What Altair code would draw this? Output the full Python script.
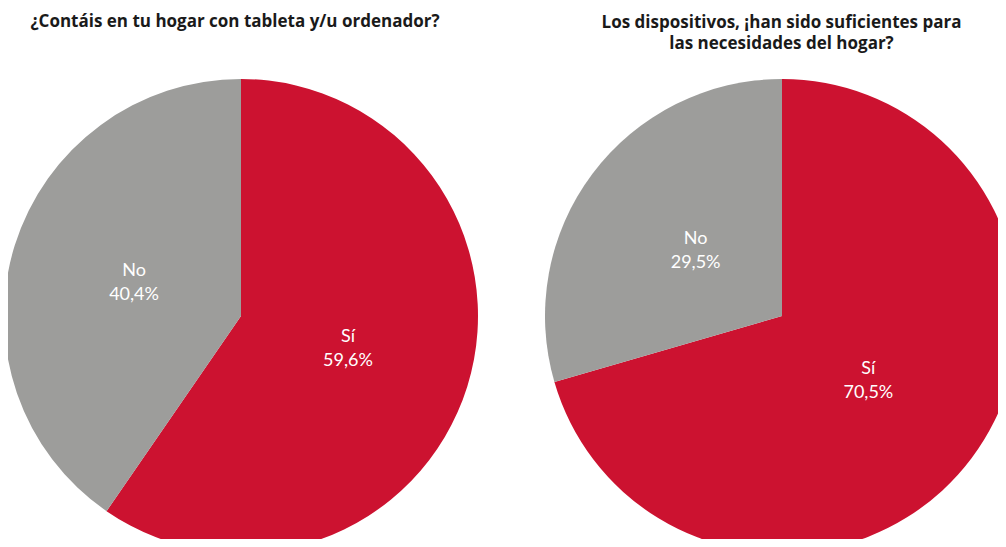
import altair as alt
import pandas as pd

categorias = ["Sí", "No"]
hogar = [59.6, 40.4]
suficientes = [70.5, 29.5]
titulo_izq = "¿Contáis en tu hogar con tableta y/u ordenador?"
titulo_der = "Los dispositivos, ¡han sido suficientes para\nlas necesidades del hogar?"

ROJO = "#CC1230"
GRIS = "#9D9D9B"
FONT = "Lato"
FONT_T = "Open Sans"


def tabla(valores):
    return pd.DataFrame({
        "cat": categorias,
        "valor": valores,
        "orden": list(range(len(categorias))),
        "etiqueta": [f"{c}\n{str(v).replace('.', ',')}%" for c, v in zip(categorias, valores)],
    })


color = alt.Color("cat:N", scale=alt.Scale(domain=categorias, range=[ROJO, GRIS]), legend=None)


def pie(df, cx, cy, r, rlab):
    base = alt.Chart(df).encode(
        theta=alt.Theta("valor:Q", stack=True, scale=alt.Scale(domain=[0, 100])),
        order=alt.Order("orden:Q"),
        x=alt.value(cx),
        y=alt.value(cy),
    )
    arc = base.mark_arc(outerRadius=r).encode(color=color)
    txt = base.mark_text(radius=rlab, color="white", font=FONT, fontSize=18, dy=-12,
                         lineBreak="\n", lineHeight=24, align="center", baseline="middle").encode(
        text="etiqueta:N")
    return arc + txt


def titulo(texto, cx, cy):
    return alt.Chart(pd.DataFrame({"t": [texto]})).mark_text(
        font=FONT_T, fontWeight="bold", fontSize=17, color="#1a1a1a", lineBreak="\n",
        lineHeight=21, align="center", baseline="middle"
    ).encode(text="t:N", x=alt.value(cx), y=alt.value(cy))


chart = alt.layer(
    pie(tabla(hogar), 233, 308, 237, 112),
    pie(tabla(suficientes), 774, 308, 237, 108),
    titulo(titulo_izq, 227, 14),
    titulo(titulo_der, 773.5, 15),
).properties(
    width=990, height=531, padding=0,
    autosize=alt.AutoSizeParams(type="none"),
).configure_view(stroke=None)

chart.save("out.html", embed_options={"renderer": "svg", "actions": False})
